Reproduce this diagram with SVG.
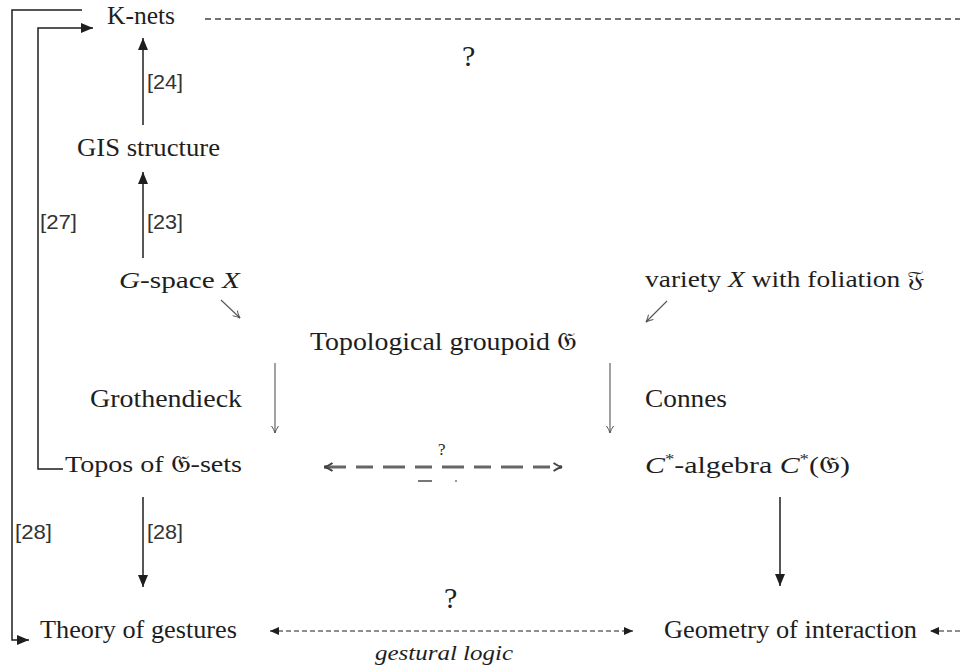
<svg xmlns="http://www.w3.org/2000/svg" width="960" height="668" viewBox="0 0 960 668">
<style>
.t{font-family:"Liberation Serif","DejaVu Serif",serif;fill:#1e1e1e}
.r{font-family:"Liberation Sans",Arial,sans-serif;fill:#333;font-size:20px}
.i{font-style:italic}
.c{fill:none;stroke:#1e1e1e;stroke-width:1.5}
.thin{fill:none;stroke:#555;stroke-width:1.1}
</style>
<defs>
<marker id="ah" viewBox="0 0 12 10" refX="12" refY="5" markerWidth="12" markerHeight="10" markerUnits="userSpaceOnUse" orient="auto">
<path d="M0,0 L12,5 L0,10 z" fill="#1e1e1e"/>
</marker>
<marker id="sh" viewBox="0 0 9 8" refX="9" refY="4" markerWidth="9" markerHeight="8" markerUnits="userSpaceOnUse" orient="auto-start-reverse">
<path d="M0,0 L9,4 L0,8 z" fill="#1e1e1e"/>
</marker>
<marker id="lt" viewBox="0 0 8 8" refX="7.5" refY="4" markerWidth="8" markerHeight="8" markerUnits="userSpaceOnUse" orient="auto-start-reverse">
<path d="M0.5,0.5 Q4,3 7.5,4 Q4,5 0.5,7.5" fill="none" stroke="#555" stroke-width="1"/>
</marker>
<marker id="lg" viewBox="0 0 10 10" refX="9.5" refY="5" markerWidth="10" markerHeight="10" markerUnits="userSpaceOnUse" orient="auto-start-reverse">
<path d="M1,1 Q5,4 9.5,5 Q5,6 1,9" fill="none" stroke="#444" stroke-width="2"/>
</marker>
</defs>

<g id="connectors">
<polyline class="c" points="82,10 12,10 12,640 29,640" marker-end="url(#ah)"/>
<polyline class="c" points="63,469 38,469 38,28 93,28" marker-end="url(#ah)"/>
<line class="c" x1="143" y1="125" x2="143" y2="38" marker-end="url(#ah)"/>
<line class="c" x1="143" y1="258" x2="143" y2="172" marker-end="url(#ah)"/>
<line class="c" x1="143" y1="497" x2="143" y2="587" marker-end="url(#ah)"/>
<line class="c" x1="780" y1="497" x2="780" y2="586" marker-end="url(#ah)"/>
<line class="thin" x1="275" y1="363" x2="275" y2="433" marker-end="url(#lt)"/>
<line class="thin" x1="610" y1="363" x2="610" y2="433" marker-end="url(#lt)"/>
<line class="thin" x1="221" y1="300" x2="240" y2="318" marker-end="url(#lt)"/>
<line class="thin" x1="667" y1="301" x2="646" y2="322" marker-end="url(#lt)"/>
<line x1="205" y1="19" x2="960" y2="19" stroke="#444" stroke-width="1.4" stroke-dasharray="6 4"/>
<line x1="324" y1="467" x2="562" y2="467" stroke="#666" stroke-width="3" stroke-dasharray="22 10 17 10" marker-start="url(#lg)" marker-end="url(#lg)"/>
<line x1="270" y1="631" x2="633" y2="631" stroke="#1e1e1e" stroke-width="1.2" stroke-dasharray="5 3" marker-start="url(#sh)" marker-end="url(#sh)"/>
<line x1="960" y1="631" x2="930" y2="631" stroke="#1e1e1e" stroke-width="1.2" stroke-dasharray="5 3" marker-end="url(#sh)"/>
<line x1="418" y1="481" x2="432" y2="481" stroke="#777" stroke-width="2"/>
<circle cx="456" cy="481" r="1" fill="#777"/>
</g>

<g id="labels">
<text class="r" x="147" y="89" textLength="36" lengthAdjust="spacingAndGlyphs">[24]</text>
<text class="r" x="147" y="229" textLength="36" lengthAdjust="spacingAndGlyphs">[23]</text>
<text class="r" x="40" y="229" textLength="37" lengthAdjust="spacingAndGlyphs">[27]</text>
<text class="r" x="15" y="539" textLength="37" lengthAdjust="spacingAndGlyphs">[28]</text>
<text class="r" x="147" y="539" textLength="36" lengthAdjust="spacingAndGlyphs">[28]</text>
<text class="t" x="462" y="66" font-size="30">?</text>
<text class="t" x="444" y="608" font-size="30">?</text>
<text class="t" x="438" y="455" font-size="17" fill="#444">?</text>
<text class="t i" x="375" y="660" font-size="22" textLength="138" lengthAdjust="spacingAndGlyphs">gestural logic</text>
</g>

<g id="knets"><text class="t" x="107" y="24" font-size="25" textLength="68" lengthAdjust="spacingAndGlyphs">K-nets</text></g>
<g id="gis"><text class="t" x="77" y="156" font-size="25" textLength="143" lengthAdjust="spacingAndGlyphs">GIS structure</text></g>
<g id="gspace"><text class="t" x="119" y="288" font-size="23" textLength="121" lengthAdjust="spacingAndGlyphs"><tspan class="i">G</tspan>-space <tspan class="i">X</tspan></text></g>
<g id="variety"><text class="t" x="645" y="287" font-size="23" textLength="280" lengthAdjust="spacingAndGlyphs">variety <tspan class="i">X</tspan> with foliation 𝔉</text></g>
<g id="groupoid"><text class="t" x="310" y="350" font-size="25" textLength="267" lengthAdjust="spacingAndGlyphs">Topological groupoid 𝔊</text></g>
<g id="grothendieck"><text class="t" x="90" y="407" font-size="25" textLength="152" lengthAdjust="spacingAndGlyphs">Grothendieck</text></g>
<g id="connes"><text class="t" x="645" y="407" font-size="25" textLength="82" lengthAdjust="spacingAndGlyphs">Connes</text></g>
<g id="topos"><text class="t" x="65" y="472" font-size="24" textLength="177" lengthAdjust="spacingAndGlyphs">Topos of 𝔊-sets</text></g>
<g id="cstar"><text class="t" x="645" y="473" font-size="24" textLength="205" lengthAdjust="spacingAndGlyphs"><tspan class="i">C</tspan><tspan font-size="15" dy="-9">*</tspan><tspan dy="9">-algebra </tspan><tspan class="i">C</tspan><tspan font-size="15" dy="-9">*</tspan><tspan dy="9">(𝔊)</tspan></text></g>
<g id="gestures"><text class="t" x="40" y="638" font-size="25" textLength="197" lengthAdjust="spacingAndGlyphs">Theory of gestures</text></g>
<g id="interaction"><text class="t" x="664" y="638" font-size="25" textLength="253" lengthAdjust="spacingAndGlyphs">Geometry of interaction</text></g>
</svg>
